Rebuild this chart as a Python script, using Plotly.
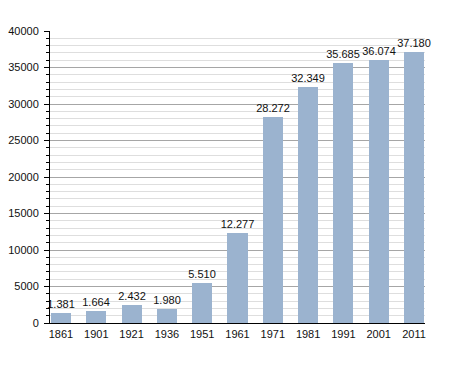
import plotly.graph_objects as go

years = ["1861", "1901", "1921", "1936", "1951", "1961", "1971", "1981", "1991", "2001", "2011"]
population = [1381, 1664, 2432, 1980, 5510, 12277, 28272, 32349, 35685, 36074, 37180]
y_ticks = [0, 5000, 10000, 15000, 20000, 25000, 30000, 35000, 40000]

positions = list(range(len(years)))
labels = [f"{v:,}".replace(",", ".") for v in population]

fig = go.Figure(
    go.Bar(
        x=positions,
        y=population,
        width=0.567,
        marker=dict(color="#9bb3cf", line=dict(width=0)),
        text=labels,
        textposition="outside",
        constraintext="none",
        textfont=dict(family="Liberation Sans, Arial, sans-serif", size=11, color="#111111"),
        cliponaxis=False,
        hoverinfo="x+y",
    )
)

fig.update_layout(
    width=455,
    height=373,
    margin=dict(l=42, r=38, t=23, b=58, autoexpand=False),
    paper_bgcolor="white",
    plot_bgcolor="white",
    showlegend=False,
    font=dict(family="Liberation Sans, Arial, sans-serif", size=11, color="#111111"),
    bargap=0,
    uniformtext=dict(mode=False),
)

fig.update_xaxes(
    range=[-0.31, 10.31],
    tickmode="array",
    tickvals=positions,
    ticktext=years,
    showgrid=False,
    zeroline=False,
    showline=True,
    linecolor="black",
    linewidth=1,
    ticks="",
    automargin=False,
    ticklabelstandoff=1,
)

fig.update_yaxes(
    range=[0, 40000],
    tickmode="array",
    tickvals=y_ticks,
    ticktext=[str(v) for v in y_ticks],
    showgrid=True,
    gridcolor="#a6a6a6",
    gridwidth=1,
    zeroline=False,
    showline=True,
    linecolor="black",
    linewidth=1,
    ticks="outside",
    ticklen=5,
    tickcolor="black",
    automargin=False,
    ticklabelstandoff=3,
    minor=dict(
        dtick=1000,
        showgrid=True,
        gridcolor="#dedede",
        gridwidth=1,
        ticks="outside",
        ticklen=3,
        tickcolor="black",
    ),
)

fig.write_html("out.html")
